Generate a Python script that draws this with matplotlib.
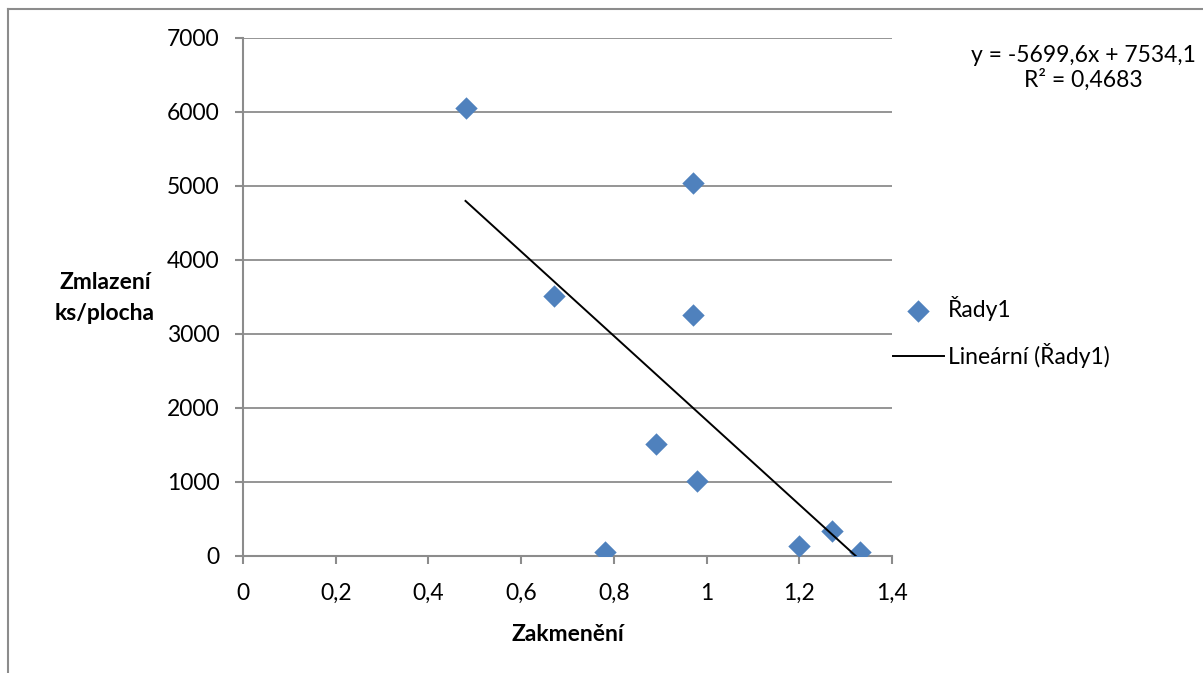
import matplotlib.pyplot as plt
from matplotlib.lines import Line2D
import numpy as np

# data
zakmeneni = [0.48, 0.67, 0.78, 0.89, 0.97, 0.97, 0.98, 1.20, 1.27, 1.33]
zmlazeni = [6060, 3520, 60, 1520, 5040, 3250, 1020, 135, 340, 55]

slope = -5699.6
intercept = 7534.1
eq_text = 'y = -5699,6x + 7534,1\nR² = 0,4683'

x_ticks = [0, 0.2, 0.4, 0.6, 0.8, 1.0, 1.2, 1.4]
x_labels = ['0', '0,2', '0,4', '0,6', '0,8', '1', '1,2', '1,4']
y_ticks = [0, 1000, 2000, 3000, 4000, 5000, 6000, 7000]

plt.rcParams['font.family'] = ['Lato', 'DejaVu Sans']
plt.rcParams['font.size'] = 16.5

W, H = 1203, 673
fig = plt.figure(figsize=(W / 100, H / 100), dpi=100)
ax = fig.add_axes([243 / W, 1 - 556 / H, (892 - 243) / W, (556 - 38) / H])

grey = '#8c8c8c'
blue = '#4f81bd'

ax.scatter(zakmeneni, zmlazeni, marker='D', s=130, color=blue, zorder=3,
           linewidths=0, label='Řady1')

xs = np.array([min(zakmeneni), max(zakmeneni)])
ax.plot(xs, slope * xs + intercept, color='black', lw=1.4, zorder=4,
        label='Lineární (Řady1)')

ax.set_xlim(0, 1.4)
ax.set_ylim(0, 7000)
ax.set_xticks(x_ticks, x_labels)
ax.set_yticks(y_ticks, [str(v) for v in y_ticks])

ax.grid(axis='y', color=grey, lw=1.3)
ax.set_axisbelow(True)
for s in ['top', 'right']:
    ax.spines[s].set_visible(False)
for s in ['left', 'bottom']:
    ax.spines[s].set_color(grey)
    ax.spines[s].set_linewidth(1.5)
ax.tick_params(axis='both', direction='out', color=grey, width=1.5, length=6)
ax.tick_params(axis='y', pad=11)
ax.tick_params(axis='x', pad=13.5)

ax.set_xlabel('Zakmenění', fontweight='bold', labelpad=14)
fig.text(105 / W, 1 - 298 / H, 'Zmlazení\nks/plocha', fontweight='bold',
         ha='center', va='center', linespacing=1.55)

fig.text(1083 / W, 1 - 68 / H, eq_text, ha='center', va='center',
         linespacing=1.15)

ax.legend(loc='center left', bbox_to_anchor=(884 / W, 1 - 332 / H),
          bbox_transform=fig.transFigure, frameon=False, handlelength=2.2,
          handletextpad=0.2, labelspacing=1.0, borderaxespad=0)

# outer chart frame (partly visible)
fig.add_artist(Line2D([8 / W, 8 / W], [0, 1 - 9 / H], color=grey, lw=1.5))
fig.add_artist(Line2D([8 / W, 1], [1 - 9 / H, 1 - 9 / H], color=grey, lw=1.5))

fig.savefig('out.png', dpi=100)
